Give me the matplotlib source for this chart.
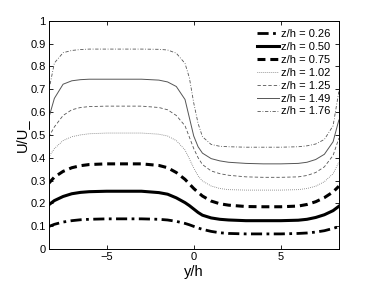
import matplotlib
matplotlib.use("Agg")
import matplotlib.pyplot as plt

plt.rcParams['font.family'] = ['Liberation Sans', 'DejaVu Sans']

# spanwise position y/h
y_h = [-8.33, -8.0, -7.5, -7.0, -6.5, -6.0, -5.0, -4.0, -3.0, -2.0, -1.5, -1.0,
       -0.5, -0.25, 0.0, 0.25, 0.5, 1.0, 1.5, 2.0, 3.0, 4.0, 5.0, 6.0, 6.5, 7.0,
       7.5, 8.0, 8.33]

u_026 = [0.098, 0.108, 0.118, 0.124, 0.128, 0.130, 0.132, 0.132, 0.132, 0.130, 0.127, 0.121,
         0.112, 0.106, 0.099, 0.092, 0.086, 0.077, 0.071, 0.068, 0.066, 0.066, 0.066, 0.068, 0.070, 0.074,
         0.080, 0.090, 0.098]
u_050 = [0.193, 0.212, 0.230, 0.242, 0.248, 0.251, 0.253, 0.253, 0.253, 0.247, 0.240, 0.224,
         0.203, 0.190, 0.175, 0.160, 0.148, 0.136, 0.130, 0.127, 0.124, 0.124, 0.124, 0.126, 0.130, 0.138,
         0.150, 0.168, 0.187]
u_075 = [0.287, 0.315, 0.340, 0.356, 0.365, 0.370, 0.373, 0.373, 0.373, 0.366, 0.356, 0.335,
         0.305, 0.285, 0.265, 0.248, 0.232, 0.210, 0.198, 0.192, 0.186, 0.185, 0.185, 0.188, 0.195, 0.207,
         0.225, 0.250, 0.275]
u_102 = [0.402, 0.440, 0.475, 0.492, 0.500, 0.505, 0.508, 0.508, 0.508, 0.503, 0.495, 0.475,
         0.434, 0.395, 0.355, 0.320, 0.298, 0.276, 0.265, 0.260, 0.258, 0.258, 0.258, 0.260, 0.265, 0.275,
         0.295, 0.330, 0.380]
u_125 = [0.490, 0.535, 0.585, 0.610, 0.620, 0.624, 0.626, 0.626, 0.626, 0.620, 0.610, 0.585,
         0.540, 0.490, 0.440, 0.400, 0.370, 0.342, 0.330, 0.323, 0.316, 0.314, 0.314, 0.316, 0.322, 0.335,
         0.360, 0.410, 0.485]
u_149 = [0.572, 0.660, 0.722, 0.737, 0.742, 0.744, 0.744, 0.744, 0.744, 0.740, 0.732, 0.712,
         0.655, 0.575, 0.495, 0.448, 0.420, 0.396, 0.386, 0.380, 0.375, 0.373, 0.373, 0.375, 0.380, 0.392,
         0.415, 0.470, 0.565]
u_176 = [0.690, 0.815, 0.860, 0.870, 0.874, 0.876, 0.876, 0.876, 0.876, 0.875, 0.872, 0.858,
         0.813, 0.750, 0.640, 0.550, 0.492, 0.458, 0.450, 0.448, 0.446, 0.446, 0.446, 0.448, 0.452, 0.460,
         0.480, 0.540, 0.690]

labels = ['z/h = 0.26', 'z/h = 0.50', 'z/h = 0.75', 'z/h = 1.02',
          'z/h = 1.25', 'z/h = 1.49', 'z/h = 1.76']

fig = plt.figure(figsize=(3.74, 2.81), dpi=100)
ax = fig.add_axes([0.130, 0.114, 0.776, 0.812])

gray = '#555555'
ax.plot(y_h, u_026, color='k', lw=2.0, dashes=(4, 1.6, 1, 1.6), label=labels[0])
ax.plot(y_h, u_050, color='k', lw=2.2, label=labels[1])
ax.plot(y_h, u_075, color='k', lw=2.2, dashes=(2.6, 1.6), label=labels[2])
ax.plot(y_h, u_102, color=gray, lw=0.6, dashes=(0.8, 1.6), label=labels[3])
ax.plot(y_h, u_125, color=gray, lw=0.6, dashes=(4, 2.5), label=labels[4])
ax.plot(y_h, u_149, color=gray, lw=0.7, label=labels[5])
ax.plot(y_h, u_176, color=gray, lw=0.6, dashes=(4, 2, 1, 2), label=labels[6])

ax.set_xlim(-8.33, 8.33)
ax.set_ylim(0, 1)
ax.set_xticks([-5, 0, 5])
ax.set_xticklabels(['\u22125', '0', '5'])
ax.set_yticks([0, 0.1, 0.2, 0.3, 0.4, 0.5, 0.6, 0.7, 0.8, 0.9, 1.0])
ax.set_yticklabels(['0', '0.1', '0.2', '0.3', '0.4', '0.5', '0.6', '0.7', '0.8', '0.9', '1'])
ax.tick_params(direction='in', top=True, right=True, length=3, width=0.6,
               labelsize=8, pad=2)
for s in ax.spines.values():
    s.set_linewidth(0.7)

ax.set_xlabel('y/h', fontsize=10.5, labelpad=2)
ax.set_ylabel('U/U_', fontsize=10.5, labelpad=1)

leg = ax.legend(loc='upper right', fontsize=8, frameon=True, fancybox=False,
                edgecolor='none', facecolor='white', framealpha=1,
                handlelength=2.0, handletextpad=0.15, labelspacing=0.26,
                borderpad=0.3, borderaxespad=0.45)

plt.savefig('out.png', dpi=100)
